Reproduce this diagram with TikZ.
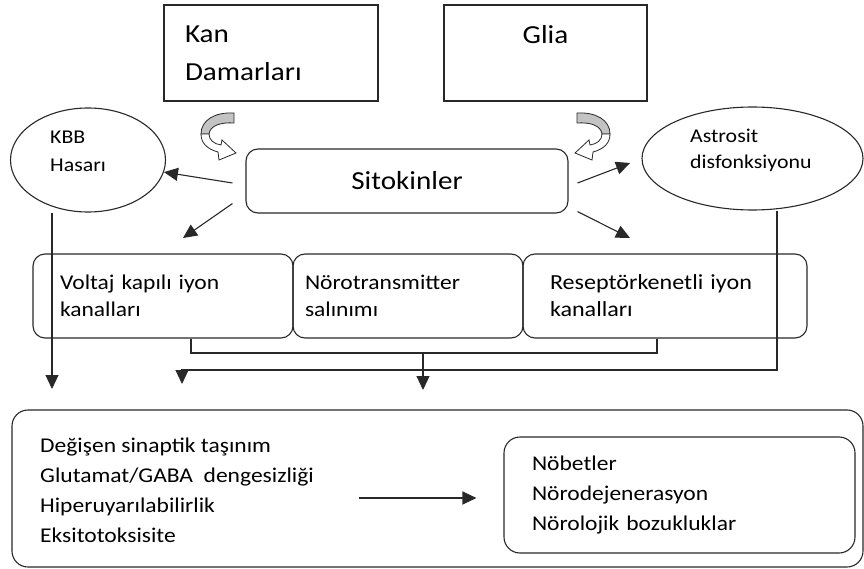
\documentclass[tikz,border=0pt]{standalone}
\usepackage{fontspec}
\setmainfont[FakeStretch=1.12]{Carlito}
\usepackage{xcolor}
\usetikzlibrary{shapes.geometric,arrows.meta,calc}
\definecolor{edge}{RGB}{40,40,40}
\definecolor{ribbon}{RGB}{195,195,195}

\tikzset{
  twist/.pic = {
    \filldraw[fill=ribbon, draw=edge, line width=0.8pt]
      (0,0) .. controls (-19,-1) and (-33,7) .. (-33,21) -- (-25,21)
      .. controls (-24,13) and (-14,9) .. (0,10) -- cycle;
    \filldraw[fill=white, draw=edge, line width=0.8pt]
      (-33,21) .. controls (-33,30) and (-27,36) .. (-16,39) -- (-15,47) -- (2,40)
      -- (-12,27) -- (-13,32) .. controls (-20,31) and (-25,27) .. (-25,21) -- cycle;
  }
}

\begin{document}
\begin{tikzpicture}[x=1pt, y=-1pt,
    box/.style = {draw=edge, line width=1.1pt, inner ysep=0pt},
    rbox/.style = {box, rounded corners=12pt},
    oval/.style = {draw=edge, line width=1.1pt, ellipse, inner sep=0pt},
    line/.style = {draw=edge, line width=1.1pt},
    arr/.style = {line, -{Triangle[length=14pt,width=13pt]}}
  ]
  \useasboundingbox (0,0) rectangle (864,569);

  % sources
  \node[box, minimum width=214pt, minimum height=96pt, inner xsep=21pt,
        text width=172pt, align=left, font=\fontsize{26}{38}\selectfont]
        (vessel) at (271,53) {Kan\\Damarları};
  \node[box, minimum width=203pt, minimum height=96pt, inner xsep=10pt,
        text width=183pt, align=center, font=\fontsize{26}{38}\selectfont]
        (glia) at (545.5,53) {Glia\\\mbox{}};
  \pic at (234,113) {twist};
  \pic[xscale=-1] at (577,113) {twist};

  \node[rbox, minimum width=322pt, minimum height=64pt,
        font=\fontsize{26}{30}\selectfont] (sit) at (407,181) {Sitokinler};

  % side effects
  \node[oval, minimum width=155pt, minimum height=104pt] (kbb) at (88,160) {};
  \node[anchor=west, align=left, inner sep=0pt, font=\fontsize{19.5}{28}\selectfont]
        (kbbtext) at (50,151) {KBB\\Hasarı};
  \node[oval, minimum width=221pt, minimum height=103pt] (astro) at (752.5,158.5) {};
  \node[anchor=west, align=left, inner sep=0pt, font=\fontsize{19.5}{26}\selectfont]
        (astrotext) at (690,150) {Astrosit\\disfonksiyonu};

  % channels
  \node[rbox, minimum width=260pt, minimum height=84pt, inner xsep=27pt,
        text width=206pt, align=left, font=\fontsize{21}{27}\selectfont]
        (volt) at (163,296) {Voltaj kapılı iyon\\kanalları};
  \node[rbox, minimum width=230pt, minimum height=84pt, inner xsep=12pt,
        text width=206pt, align=left, font=\fontsize{21}{27}\selectfont]
        (nt) at (408,296) {Nörotransmitter\\salınımı};
  \node[rbox, minimum width=284pt, minimum height=84pt, inner xsep=27pt,
        text width=230pt, align=left, font=\fontsize{21.5}{27}\selectfont]
        (recep) at (665,296) {Reseptörkenetli iyon\\kanalları};

  % results
  \node[rbox, rounded corners=16pt, minimum width=851pt, minimum height=157pt]
        (effects) at (437.5,488.5) {};
  \node[anchor=west, align=left, inner sep=0pt, font=\fontsize{21}{30}\selectfont]
        (changes) at (40,490) {Değişen sinaptik taşınım\\Glutamat/GABA\ \ dengesizliği\\Hiperuyarılabilirlik\\Eksitotoksisite};
  \node[rbox, rounded corners=16pt, minimum width=351pt, minimum height=116pt,
        inner xsep=28pt, text width=295pt, align=left,
        font=\fontsize{21}{30}\selectfont]
        (outcome) at (679.5,495) {Nöbetler\\Nörodejenerasyon\\Nörolojik bozukluklar};

  % free ends
  \coordinate (voltin) at (183,238);
  \coordinate (astin) at (630,163);
  \coordinate (recin) at (630,238);
  \coordinate (kbbend) at (52,389);
  \coordinate (brl) at (191,353);
  \coordinate (brr) at (657,353);
  \coordinate (joinend) at (423,390);
  \coordinate (astx) at (777,370);
  \coordinate (astend) at (182,384);

  \draw[arr] ($(sit.west)+(-13,2)$) -- (kbb);
  \draw[arr] ($(sit.south west)+(-13,-10)$) -- (voltin);
  \draw[arr] ($(sit.east)+(9,2)$) -- (astin);
  \draw[arr] ($(sit.south east)+(9,-2)$) -- (recin);

  \draw[arr] (kbbend |- kbb.south) -- (kbbend);
  \draw[line] (brl |- volt.south) -- (brl) -- (brr) -- (brr |- recep.south);
  \draw[arr] (joinend |- brl) -- (joinend);
  \draw[arr] (astx |- astro.south) -- (astx) -- (astend |- astx) -- (astend);

  \draw[arr] ($(outcome.west)+(-144,3)$) -- ($(outcome.west)+(-27,3)$);
\end{tikzpicture}
\end{document}
